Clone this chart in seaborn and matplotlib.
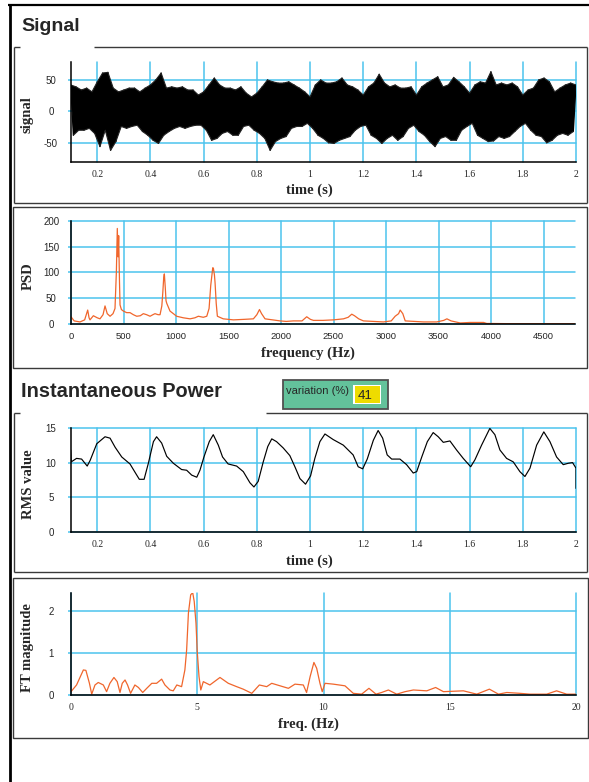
import numpy as np
import matplotlib
matplotlib.use("Agg")
import matplotlib.pyplot as plt
from matplotlib.lines import Line2D
from matplotlib.patches import Rectangle
import seaborn as sns

# ---------------- data ----------------
# Signal: envelope (upper peaks at even 0.02 s, lower peaks at odd 0.01 s)
sig_upper = [42, 39, 34, 37, 31, 47, 61, 62, 37, 31, 34, 37, 37, 31, 37, 42, 50, 61, 37, 39, 37, 39, 34, 34,
             26, 31, 42, 53, 42, 37, 37, 34,
             39, 29, 23, 29, 39, 50, 47, 45, 45, 47, 42, 37, 31, 23, 42, 50, 45, 45, 47, 53, 42, 39, 34, 26,
             39, 45, 59, 45, 39, 42, 37, 37,
             39, 26, 39, 45, 50, 55, 39, 42, 54, 47, 39, 29, 42, 47, 45, 63, 42, 45, 42, 45, 39, 26, 34, 37,
             50, 53, 47, 31, 37, 42, 45, 42]
sig_lower = [-38, -30, -30, -27, -35, -56, -30, -62, -48, -24, -27, -24, -22, -32, -38, -46, -51, -38, -32, -27,
             -24, -27, -24, -22, -22, -30, -46, -43, -35, -32, -38, -38,
             -24, -22, -30, -35, -43, -62, -48, -43, -40, -27, -24, -24, -19, -27, -38, -43, -50, -51, -46, -43,
             -40, -30, -24, -22, -38, -43, -51, -43, -38, -46, -40,
             -27, -22, -32, -38, -48, -56, -43, -40, -46, -46, -30, -24, -19, -38, -43, -48, -47, -40, -43, -40,
             -32, -24, -19, -30, -38, -40, -50, -46, -38, -35, -38, -32]
sig_t_upper = np.round(np.arange(0.10, 2.0001, 0.02), 2)
sig_t_lower = np.round(np.arange(0.11, 1.9901, 0.02), 2)

# PSD spectrum
psd_freq = [0, 30, 86, 130, 159, 172, 181, 213, 250, 276, 305, 324, 345, 372, 400, 419, 432, 441, 448, 454,
            462, 467, 480, 499, 530, 562, 594, 626, 660, 689, 720, 753, 780, 800, 830, 848, 865, 874, 883, 889,
            898, 905, 912, 943, 975, 1006, 1070, 1134, 1180, 1213, 1260, 1293, 1315, 1331, 1350, 1356, 1366,
            1372, 1383, 1394, 1450, 1547, 1650, 1737, 1770, 1795, 1815, 1848, 1920, 1991, 2050, 2118, 2200,
            2245, 2280, 2309, 2400, 2500, 2595, 2640, 2674, 2700, 2740, 2785, 2880, 2976, 3050, 3087, 3120,
            3135, 3160, 3183, 3270, 3357, 3484, 3550, 3580, 3620, 3707, 3800, 3929, 3960, 3993, 4200, 4500, 4800]
psd_vals = [14, 6, 4, 8, 27, 12, 8, 16, 12, 10, 18, 35, 20, 15, 20, 30, 100, 185, 130, 171,
            80, 37, 28, 25, 22, 22, 18, 15, 16, 20, 18, 15, 18, 20, 18, 18, 35, 60, 90, 97,
            70, 45, 40, 25, 20, 15, 12, 10, 12, 15, 13, 15, 30, 75, 109, 108, 95,
            80, 40, 15, 10, 8, 9, 10, 18, 28, 20, 10, 8, 6, 5, 6, 6,
            14, 9, 7, 7, 8, 10, 13, 19, 16, 10, 6, 5, 4, 6, 15, 20,
            27, 20, 6, 5, 4, 4, 7, 10, 6, 2, 3, 3, 1, 1, 0.6, 0.5, 0.5]

# RMS value (instantaneous power)
rms_t = [0.100, 0.102, 0.122, 0.141, 0.162, 0.173, 0.198, 0.229, 0.248, 0.267, 0.292, 0.323, 0.342, 0.358,
         0.376, 0.392, 0.411, 0.423, 0.442, 0.461, 0.486, 0.517, 0.536, 0.555, 0.574, 0.586, 0.601, 0.621,
         0.636, 0.655, 0.671, 0.692, 0.724, 0.749, 0.774, 0.789, 0.805, 0.824, 0.841, 0.856, 0.874, 0.899,
         0.924, 0.943, 0.962, 0.983, 1.002, 1.018, 1.037, 1.056, 1.087, 1.125, 1.162, 1.181, 1.198, 1.215,
         1.238, 1.256, 1.273, 1.290, 1.307, 1.338, 1.363, 1.388, 1.401, 1.420, 1.441, 1.463, 1.482, 1.501,
         1.526, 1.551, 1.576, 1.604, 1.620, 1.645, 1.676, 1.695, 1.714, 1.739, 1.764, 1.789, 1.808, 1.827,
         1.852, 1.879, 1.902, 1.927, 1.952, 1.971, 1.987, 2.000, 2.000]
rms_vals = [11.8, 10.1, 10.6, 10.5, 9.5, 10.3, 12.7, 13.7, 13.5, 12.2, 10.8, 9.8, 8.6, 7.6,
            7.6, 9.9, 13.0, 13.7, 12.8, 10.9, 9.9, 9.0, 8.9, 8.2, 7.9, 8.9, 10.8, 13.0,
            14.0, 12.5, 10.8, 9.8, 9.5, 8.7, 7.1, 6.5, 7.3, 10.1, 12.3, 13.4, 13.0, 12.1,
            11.0, 9.4, 7.7, 6.9, 8.1, 10.6, 13.0, 14.1, 13.3, 12.5, 11.1, 9.4, 9.1, 10.5,
            13.2, 14.6, 13.5, 11.1, 10.5, 10.5, 9.7, 8.5, 8.7, 10.8, 13.0, 14.3, 13.7, 12.9,
            13.1, 11.8, 10.6, 9.4, 10.4, 12.5, 14.9, 14.0, 11.8, 10.6, 10.1, 8.7, 8.0, 9.2,
            12.5, 14.4, 13.0, 10.8, 9.7, 9.9, 10.0, 9.2, 6.3]

# Fourier transform magnitude of the RMS curve
ft_freq = [0.0, 0.22, 0.49, 0.59, 0.73, 0.82, 0.95, 1.08, 1.28, 1.41, 1.54, 1.70, 1.83, 1.94, 2.03, 2.14,
           2.24, 2.36, 2.53, 2.67, 2.84, 3.00, 3.20, 3.39, 3.59, 3.72, 3.92, 4.05, 4.19, 4.38, 4.51, 4.58,
           4.65, 4.74, 4.82, 4.88, 4.95, 5.00, 5.07, 5.14, 5.24, 5.50, 5.90, 6.23, 6.56, 6.82, 7.16, 7.46,
           7.75, 7.95, 8.28, 8.61, 8.87, 9.20, 9.33, 9.47, 9.62, 9.73, 9.86, 9.95, 10.06, 10.39, 10.85,
           11.18, 11.51, 11.80, 12.08, 12.30, 12.57, 12.90, 13.23, 13.56, 14.09, 14.44, 14.75, 15.54, 16.07,
           16.57, 16.93, 17.26, 17.78, 18.18, 18.84, 19.23, 19.63, 20.0]
ft_vals = [0.08, 0.24, 0.60, 0.59, 0.28, 0.02, 0.24, 0.30, 0.24, 0.08, 0.28, 0.42, 0.32, 0.06, 0.28, 0.36,
           0.24, 0.04, 0.24, 0.18, 0.06, 0.16, 0.28, 0.28, 0.38, 0.24, 0.12, 0.10, 0.24, 0.20, 0.60, 1.08,
           1.96, 2.40, 2.45, 2.24, 1.72, 1.04, 0.44, 0.12, 0.32, 0.24, 0.42, 0.28, 0.20, 0.14, 0.04, 0.24,
           0.20, 0.28, 0.22, 0.16, 0.26, 0.24, 0.06, 0.44, 0.78, 0.64, 0.28, 0.08, 0.28, 0.26, 0.22,
           0.04, 0.02, 0.16, 0.02, 0.06, 0.12, 0.02, 0.08, 0.12, 0.10, 0.18, 0.08, 0.10, 0.02,
           0.14, 0.02, 0.06, 0.04, 0.02, 0.02, 0.10, 0.02, 0.02]

variation_value = "41"

time_ticks = [0.2, 0.4, 0.6, 0.8, 1.0, 1.2, 1.4, 1.6, 1.8, 2.0]
time_ticklabels = ["0.2", "0.4", "0.6", "0.8", "1", "1.2", "1.4", "1.6", "1.8", "2"]
psd_xticks = [0, 500, 1000, 1500, 2000, 2500, 3000, 3500, 4000, 4500]
psd_yticks = [0, 50, 100, 150, 200]
sig_yticks = [-50, 0, 50]
rms_yticks = [0, 5, 10, 15]
ft_xticks = [0, 5, 10, 15, 20]
ft_yticks = [0, 1, 2]

# ---------------- figure ----------------
sns.set_theme(style="white")
plt.rcParams['font.family'] = ['Liberation Sans', 'DejaVu Sans']

W, H = 589, 782
fig = plt.figure(figsize=(W / 100, H / 100), dpi=100)
fig.patch.set_facecolor('white')

GRID = '#4cc3ee'
ORANGE = '#f0662c'
SERIF = ['Liberation Serif', 'DejaVu Serif']
SANS = ['Liberation Sans', 'DejaVu Sans']


def px_rect(x0, y0, x1, y1):
    return [x0 / W, 1 - y1 / H, (x1 - x0) / W, (y1 - y0) / H]


def hline(x0, x1, y, color='#333333', lw=1.0):
    fig.add_artist(Line2D([x0 / W, x1 / W], [1 - y / H, 1 - y / H], transform=fig.transFigure,
                          color=color, lw=lw, solid_capstyle='butt'))


def vline(x, y0, y1, color='#333333', lw=1.0):
    fig.add_artist(Line2D([x / W, x / W], [1 - y0 / H, 1 - y1 / H], transform=fig.transFigure,
                          color=color, lw=lw, solid_capstyle='butt'))


def ftext(x, y, s, **kw):
    fig.text(x / W, 1 - y / H, s, **kw)


def style(ax, xlim, ylim, xt, xtl, yt, xfont, xsize):
    ax.set_xlim(*xlim)
    ax.set_ylim(*ylim)
    ax.set_xticks(xt)
    ax.set_xticklabels(xtl, fontfamily=xfont, fontsize=xsize)
    ax.set_yticks(yt)
    ax.set_yticklabels([str(v) for v in yt], fontfamily=SANS, fontsize=7)
    for s in ['top', 'right']:
        ax.spines[s].set_visible(False)
    for s in ['left', 'bottom']:
        ax.spines[s].set_color('black')
        ax.spines[s].set_linewidth(1.1)
        ax.spines[s].set_zorder(3)
    ax.grid(True, color=GRID, lw=1.1)
    ax.set_axisbelow(True)
    ax.tick_params(axis='y', length=2, width=1.1, color=GRID, pad=12.2, left=True)
    ax.tick_params(axis='x', length=0, pad=5.8)
    for lab in ax.get_yticklabels():
        lab.set_ha('center')
    ax.set_xlabel('')
    ax.set_ylabel('')
    ax.set_facecolor('white')


# outer frame
hline(8, 589, 5, color='black', lw=1.6)
vline(9.7, 4, 782, color='black', lw=2.0)

# group boxes
BOX = '#3a3a3a'
hline(14, 20, 47, BOX); hline(94, 587, 47, BOX)
vline(14, 47, 203, BOX); vline(587, 47, 203, BOX); hline(14, 587, 203, BOX)
fig.add_artist(Rectangle((13 / W, 1 - 368 / H), 574 / W, 161 / H, transform=fig.transFigure,
                         fill=False, edgecolor=BOX, lw=1.0))
hline(14, 20, 413, BOX); hline(266, 587, 413, BOX)
vline(14, 413, 572, BOX); vline(587, 413, 572, BOX); hline(14, 587, 572, BOX)
fig.add_artist(Rectangle((13 / W, 1 - 738 / H), 575 / W, 160 / H, transform=fig.transFigure,
                         fill=False, edgecolor=BOX, lw=1.0))

# titles
ftext(21, 30.7, "Signal", fontsize=14, fontweight='bold', family=SANS, va='baseline')
ftext(21, 397.3, "Instantaneous Power", fontsize=14.4, fontweight='bold', family=SANS, va='baseline')

# variation box
fig.add_artist(Rectangle((283 / W, 1 - 409 / H), 105 / W, 29 / H, transform=fig.transFigure,
                         facecolor='#63c29b', edgecolor='#505050', lw=1.3))
fig.add_artist(Rectangle((353 / W, 1 - 404 / H), 28 / W, 19 / H, transform=fig.transFigure,
                         facecolor='white', edgecolor='none'))
fig.add_artist(Rectangle((355 / W, 1 - 403 / H), 25 / W, 17 / H, transform=fig.transFigure,
                         facecolor='#eedc00', edgecolor='none'))
ftext(286.5, 391, "variation (%)", fontsize=8, family=SANS, va='center', ha='left')
ftext(358, 396, variation_value, fontsize=9.5, family=SANS, va='center', ha='left')

# ---- Signal axes ----
ax1 = fig.add_axes(px_rect(70.7, 61.7, 576, 162.3))
# solid band between the read envelopes
band_t = np.concatenate([sig_t_upper, sig_t_lower[::-1]])
band_v = np.concatenate([sig_upper, sig_lower[::-1]])
ax1.fill(band_t, band_v, color='black', lw=0, zorder=2)
sig_t = np.empty(len(sig_t_upper) + len(sig_t_lower))
sig_v = np.empty_like(sig_t)
sig_t[0::2] = sig_t_upper
sig_t[1::2] = sig_t_lower
sig_v[0::2] = sig_upper
sig_v[1::2] = sig_lower
sns.lineplot(x=sig_t, y=sig_v, ax=ax1, color='black', lw=0.9, sort=False, estimator=None, zorder=2)
sns.lineplot(x=sig_t_upper, y=sig_upper, ax=ax1, color='#222222', lw=0.8, sort=False, estimator=None, zorder=2)
sns.lineplot(x=sig_t_lower, y=sig_lower, ax=ax1, color='#222222', lw=0.8, sort=False, estimator=None, zorder=2)
style(ax1, (0.1, 2.0), (-81, 79), time_ticks, time_ticklabels, sig_yticks, SERIF, 7)

# ---- PSD axes ----
ax2 = fig.add_axes(px_rect(71, 220.7, 575, 324))
sns.lineplot(x=psd_freq, y=psd_vals, ax=ax2, color=ORANGE, lw=0.9, sort=False, estimator=None)
style(ax2, (0, 4800), (0, 200), psd_xticks, [str(v) for v in psd_xticks], psd_yticks, SANS, 6.8)

# ---- RMS axes ----
ax3 = fig.add_axes(px_rect(70.7, 427.7, 576, 532.3))
sns.lineplot(x=rms_t, y=rms_vals, ax=ax3, color='black', lw=0.85, sort=False, estimator=None)
style(ax3, (0.1, 2.0), (0, 15), time_ticks, time_ticklabels, rms_yticks, SERIF, 7)

# ---- FT axes ----
ax4 = fig.add_axes(px_rect(71, 592.7, 576, 695))
sns.lineplot(x=ft_freq, y=ft_vals, ax=ax4, color=ORANGE, lw=0.9, sort=False, estimator=None)
style(ax4, (0, 20), (0, 2.45), ft_xticks, [str(v) for v in ft_xticks], ft_yticks, SERIF, 7)

for ax in (ax1, ax2, ax3, ax4):
    for gl in ax.get_xgridlines() + ax.get_ygridlines():
        gl.set_clip_on(False)

# axis labels
LAB = dict(fontsize=10.5, fontweight='bold', family=SERIF, ha='center', va='center')
ftext(309, 190, "time (s)", **LAB)
ftext(308, 353, "frequency (Hz)", **LAB)
ftext(309, 561, "time (s)", **LAB)
ftext(308, 724, "freq. (Hz)", **LAB)
ftext(27, 115, "signal", rotation=90, **LAB)
ftext(28, 276.5, "PSD", rotation=90, **LAB)
ftext(28, 484.5, "RMS value", rotation=90, **LAB)
ftext(28, 648, "FT magnitude", rotation=90, **LAB)

fig.savefig("out.png", dpi=100)
